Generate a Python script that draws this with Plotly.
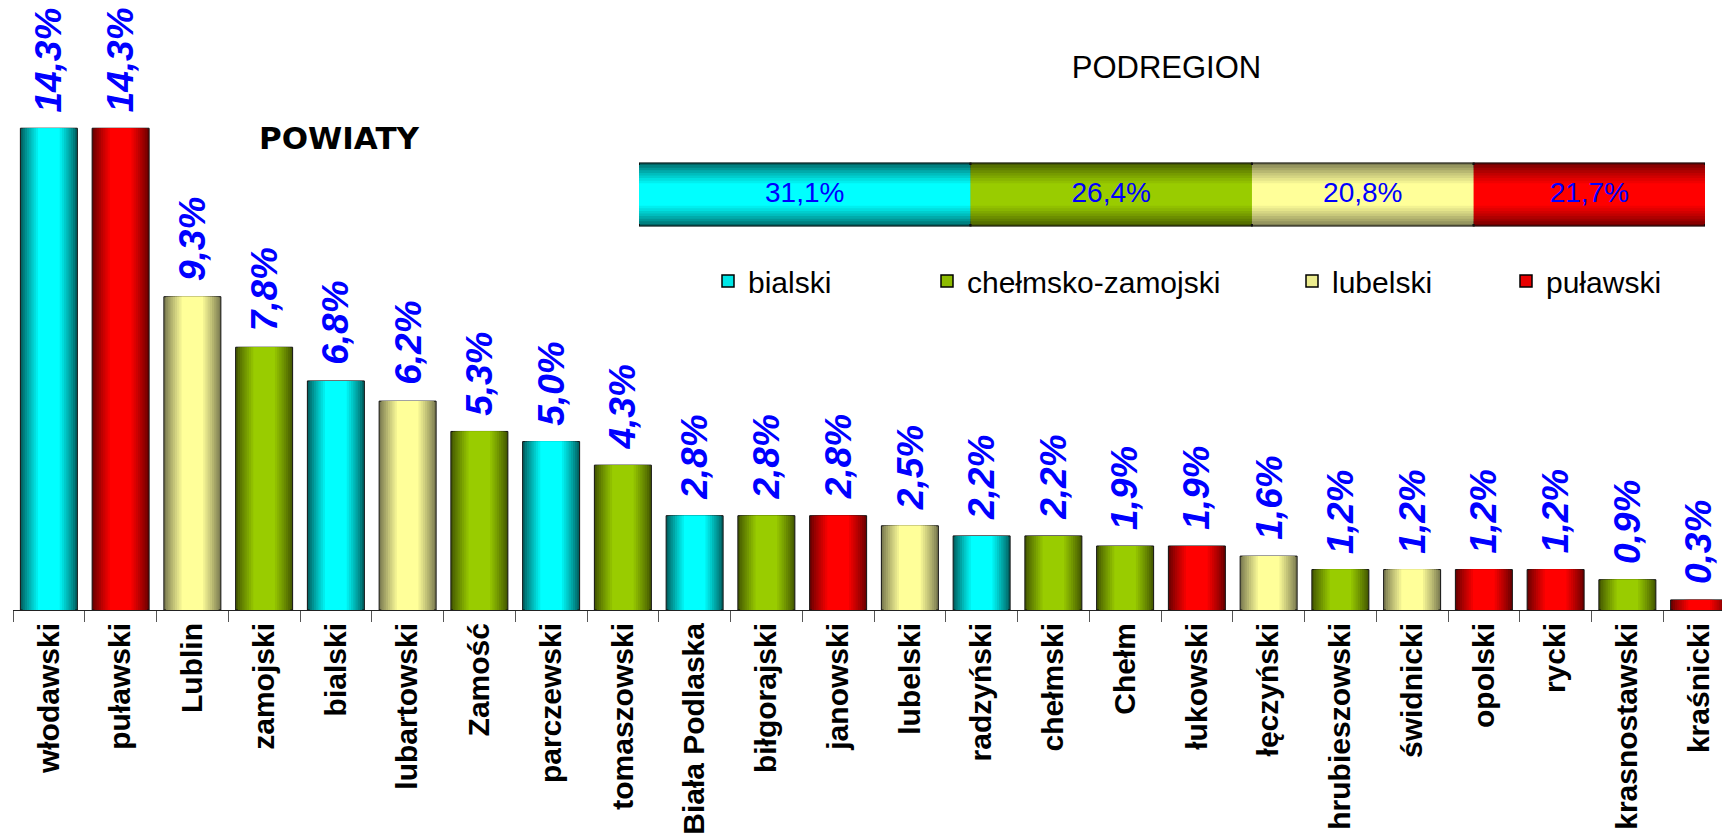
import numpy as np
import plotly.graph_objects as go

# ---------------- data ----------------
powiaty = ["włodawski", "puławski", "Lublin", "zamojski", "bialski", "lubartowski",
           "Zamość", "parczewski", "tomaszowski", "Biała Podlaska", "biłgorajski",
           "janowski", "lubelski", "radzyński", "chełmski", "Chełm", "łukowski",
           "łęczyński", "hrubieszowski", "świdnicki", "opolski", "rycki",
           "krasnostawski", "kraśnicki"]
udzial_powiatu = [14.3, 14.3, 9.3, 7.8, 6.8, 6.2, 5.3, 5.0, 4.3, 2.8, 2.8, 2.8,
                  2.5, 2.2, 2.2, 1.9, 1.9, 1.6, 1.2, 1.2, 1.2, 1.2, 0.9, 0.3]
podregion_powiatu = ["bialski", "puławski", "lubelski", "chełmsko-zamojski", "bialski",
                     "lubelski", "chełmsko-zamojski", "bialski", "chełmsko-zamojski",
                     "bialski", "chełmsko-zamojski", "puławski", "lubelski", "bialski",
                     "chełmsko-zamojski", "chełmsko-zamojski", "puławski", "lubelski",
                     "chełmsko-zamojski", "lubelski", "puławski", "puławski",
                     "chełmsko-zamojski", "puławski"]

podregiony = ["bialski", "chełmsko-zamojski", "lubelski", "puławski"]
udzial_podregionu = [31.1, 26.4, 20.8, 21.7]

# ---------------- styles ----------------
dark = {"bialski": (0, 100, 100), "chełmsko-zamojski": (70, 90, 0),
        "lubelski": (125, 125, 82), "puławski": (110, 0, 0)}
bright = {"bialski": (0, 255, 255), "chełmsko-zamojski": (153, 204, 0),
          "lubelski": (255, 255, 153), "puławski": (255, 0, 0)}

FONT = "Liberation Sans, Arial, sans-serif"
W, H = 1722, 839
ML, MB = 13, 229
PLOT_H = H - MB
PLOT_W = W - ML
N_LAYERS = 9


def mix(p, t):
    a, b = dark[p], bright[p]
    return "rgb(%d,%d,%d)" % tuple(round(a[i] + (b[i] - a[i]) * t) for i in range(3))


def fmt(v):
    return ("%.1f" % v).replace(".", ",") + "%"


def px_x(px):
    return (px - ML) / PLOT_W


def px_y(py):
    return (PLOT_H - py) / PLOT_H


fig = go.Figure()

# ---- main chart: powiaty (cylinder-like shading with stacked layers) ----
BAR_W = 0.794
for k in range(N_LAYERS):
    t = k / (N_LAYERS - 1)
    fig.add_trace(go.Bar(
        x=powiaty, y=udzial_powiatu,
        width=BAR_W * (1 - 0.62 * t),
        marker=dict(color=[mix(p, t ** 0.9) for p in podregion_powiatu],
                    line=dict(width=1 if k == 0 else 0, color="#111111")),
        showlegend=False, hoverinfo="skip", xaxis="x", yaxis="y"))

# ---- podregion stacked bar ----
bazy = np.concatenate([[0], np.cumsum(udzial_podregionu)[:-1]])
for k in range(N_LAYERS):
    t = k / (N_LAYERS - 1)
    fig.add_trace(go.Bar(
        x=udzial_podregionu, y=[0] * len(podregiony), base=bazy, orientation="h",
        width=1.0 * (1 - 0.65 * t),
        marker=dict(color=[mix(p, t ** 0.8) for p in podregiony],
                    line=dict(width=2 if k == 0 else 0, color="#111111")),
        showlegend=False, hoverinfo="skip", xaxis="x2", yaxis="y2"))

fig.add_trace(go.Scatter(
    x=bazy + np.array(udzial_podregionu) / 2, y=[0] * len(podregiony),
    text=[fmt(v) for v in udzial_podregionu], mode="text",
    textposition="middle center",
    textfont=dict(family=FONT, size=28, color="#0000FF"),
    showlegend=False, hoverinfo="skip", xaxis="x2", yaxis="y2"))

# legend entries (one legend per podregion)
legend_ids = ["legend", "legend2", "legend3", "legend4"]
for i, p in enumerate(podregiony):
    fig.add_trace(go.Bar(
        x=[None], y=[None], orientation="h", name=p,
        marker=dict(color=mix(p, 0.85), line=dict(width=1.5, color="#000000")),
        xaxis="x2", yaxis="y2", legend=legend_ids[i], showlegend=True,
        hoverinfo="skip"))

# data labels on powiaty bars
annotations = []
for name, v in zip(powiaty, udzial_powiatu):
    annotations.append(dict(
        x=name, y=v, xref="x", yref="y", text=fmt(v), showarrow=False,
        textangle=-90, xanchor="center", yanchor="bottom", yshift=14,
        font=dict(family=FONT, size=37, color="#0000FF", weight="bold", style="italic")))

annotations.append(dict(
    x=px_x(339), y=px_y(138.5), xref="paper", yref="paper",
    text="POWIATY", showarrow=False, xanchor="center", yanchor="middle",
    font=dict(family="DejaVu Sans, Verdana, sans-serif", size=31, color="#000000",
              weight="bold")))

px_per_cat = 71.75
x_max = PLOT_W / px_per_cat - 0.5
y_max = PLOT_H / 33.69

layout = dict(
    template="none",
    width=W, height=H,
    margin=dict(l=ML, r=0, t=0, b=MB, pad=0, autoexpand=False),
    paper_bgcolor="white", plot_bgcolor="white",
    barmode="overlay",
    showlegend=True,
    title=dict(text="PODREGION", x=1166.5 / W, xref="container", y=1 - 67 / H,
               yref="container", xanchor="center", yanchor="middle",
               font=dict(family=FONT, size=31, color="#000000")),
    xaxis=dict(type="category", range=[-0.5, x_max], tickson="boundaries",
               ticks="outside", ticklen=11, tickwidth=1, tickcolor="#555555",
               showline=True, linecolor="#222222", linewidth=1,
               tickangle=-90, showgrid=False, zeroline=False, automargin=False,
               tickfont=dict(family=FONT, size=30, color="#000000", weight="bold"),
               fixedrange=True),
    yaxis=dict(range=[0, y_max], visible=False, automargin=False, fixedrange=True),
    xaxis2=dict(domain=[px_x(639), px_x(1705)],
                range=[0, sum(udzial_podregionu)], anchor="y2", visible=False,
                automargin=False, fixedrange=True),
    yaxis2=dict(domain=[px_y(226.5), px_y(162.5)],
                range=[-0.5, 0.5], anchor="x2", visible=False, automargin=False,
                fixedrange=True),
    annotations=annotations,
)

text_starts = [748, 967, 1332, 1546]
for i, key in enumerate(legend_ids):
    layout[key] = dict(x=px_x(text_starts[i] - 40), xref="paper",
                       y=px_y(281), yref="paper",
                       xanchor="left", yanchor="middle", orientation="h",
                       bgcolor="rgba(0,0,0,0)", borderwidth=0,
                       font=dict(family=FONT, size=30, color="#000000"))

fig.update_layout(**layout)

fig.write_html("out.html", config={"displayModeBar": False},
               post_script="document.body.style.margin='0';document.body.style.overflow='hidden';")
